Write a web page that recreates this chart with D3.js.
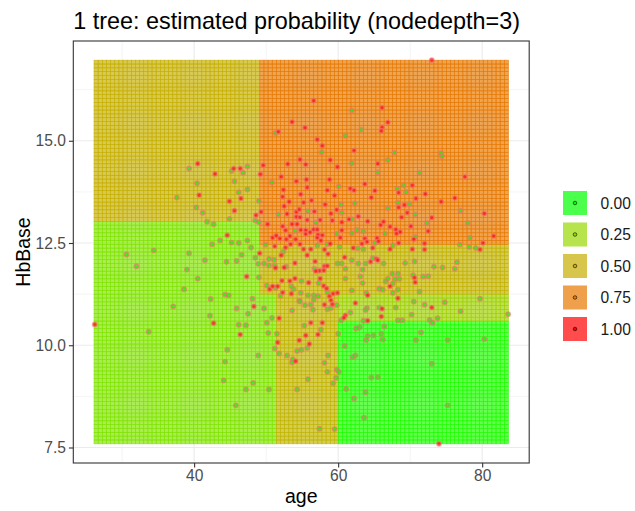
<!DOCTYPE html>
<html>
<head>
<meta charset="utf-8">
<script src="https://cdn.jsdelivr.net/npm/d3@7"></script>
<style>
  body { margin: 0; background: #fff; }
  text { font-family: "Liberation Sans", Arial, sans-serif; }
</style>
</head>
<body>
<svg id="chart"></svg>
<script>
// Specify the dimensions of the chart.
const width = 635;
const height = 511;

// Panel box (ggplot theme_bw look).
const panel = {left: 73.3, right: 529.2, top: 41, bottom: 463};

// Data ---------------------------------------------------------------------

// Extent of the prediction grid (age, HbBase) and its resolution.
const gridAge = [26.1, 83.65];
const gridHb = [7.59, 16.97];
const gridSize = 100;

// Tree leaves: [ageMin, ageMax, hbMin, hbMax, estimated probability]
const leaves = [
  [0, 49.0, 13.03, 99, 0.48],
  [0, 49.0, 11.29, 13.03, 0.17],
  [49.0, 999, 12.44, 99, 0.74],
  [49.0, 999, 11.29, 12.44, 0.46],
  [0, 51.56, 0, 11.29, 0.17],
  [51.56, 59.88, 0, 11.29, 0.45],
  [59.88, 999, 10.55, 11.29, 0.28],
  [59.88, 999, 0, 10.55, 0.01]
];

// Observations with outcome 1 (age, HbBase).
const redPoints = [
  [53.6,15.46],[51.7,15.22],[40.5,14.44],[42.9,14.19],[45.5,14.32],[46.4,14.32],[49.6,14.40],
  [53.0,14.43],[54.7,14.54],[49.2,14.18],[52.1,14.12],[54.2,14.01],[52.4,13.80],[40.7,13.67],
  [46.5,13.59],[52.3,13.63],[53.2,13.51],[44.9,13.52],[52.5,13.40],[45.6,13.29],[49.3,13.26],
  [48.6,13.18],[52.9,13.21],[54.2,13.26],[50.2,12.96],[52.3,12.91],[53.6,12.96],[54.3,12.96],
  [52.7,12.81],[44.6,12.69],[50.9,12.63],[51.4,12.68],[51.9,12.61],[52.8,12.59],[53.3,12.67],
  [54.1,12.59],[51.2,12.42],[53.4,12.47],[52.7,12.39],[73.0,16.97],[56.6,15.98],[66.1,15.81],
  [66.9,15.45],[55.4,15.32],[66.1,15.33],[66.0,15.24],[57.1,15.03],[57.8,14.88],[62.2,14.76],
  [58.9,14.53],[55.5,14.42],[65.5,14.44],[59.9,14.36],[77.6,14.12],[55.6,14.05],[58.8,14.05],
  [63.7,13.94],[55.7,13.86],[61.7,13.83],[62.2,13.79],[58.5,13.79],[65.1,13.78],[70.3,13.91],
  [68.4,13.73],[54.8,13.69],[59.5,13.66],[72.1,13.70],[64.6,13.61],[70.8,13.59],[76.2,13.60],
  [56.3,13.54],[55.2,13.49],[58.2,13.44],[74.3,13.51],[54.6,13.32],[68.4,13.37],[69.2,13.43],
  [59.8,13.31],[56.7,13.27],[59.0,13.22],[69.6,13.24],[80.3,13.22],[54.2,13.14],[54.7,13.13],
  [62.8,13.15],[68.8,13.13],[73.0,13.12],[55.7,13.06],[57.5,13.06],[59.2,13.05],[64.1,13.03],
  [61.5,13.08],[60.5,13.01],[65.9,12.94],[66.3,13.02],[67.2,12.90],[70.1,12.91],[54.8,12.82],
  [55.5,12.81],[56.6,12.83],[57.1,12.83],[60.5,12.81],[68.0,12.83],[68.6,12.77],[72.5,12.79],
  [55.5,12.72],[56.1,12.76],[57.2,12.70],[57.8,12.69],[68.1,12.73],[70.5,12.59],[81.6,12.67],
  [57.1,12.63],[57.6,12.56],[58.9,12.48],[60.3,12.63],[54.7,12.47],[63.7,12.61],[65.4,12.62],
  [64.0,12.53],[63.3,12.48],[65.6,12.54],[68.4,12.50],[72.0,12.49],[80.1,12.50],[62.1,12.38],
  [64.8,12.38],[67.2,12.35],[70.3,12.35],[72.0,12.34],[55.2,12.35],[56.2,12.35],[58.1,12.34],
  [79.7,12.34],[49.1,12.25],[52.1,12.20],[54.0,12.01],[51.3,11.89],[52.5,11.90],[47.3,11.68],
  [52.2,11.58],[53.3,11.57],[54.0,11.63],[50.5,11.37],[50.9,11.44],[51.6,11.44],[52.3,11.29],
  [53.5,11.26],[48.3,10.95],[51.8,10.66],[26.2,10.51],[42.7,10.54],[46.4,10.26],[51.6,10.07],
  [54.6,10.12],[54.1,9.61],[58.6,12.23],[55.7,12.20],[56.8,12.05],[57.4,11.82],[56.9,11.81],
  [58.1,11.93],[58.5,11.94],[58.0,11.83],[57.5,11.63],[55.9,11.53],[58.0,11.45],[58.4,11.39],
  [58.8,11.20],[59.3,11.26],[59.9,11.28],[59.0,11.10],[59.2,11.00],[58.1,10.99],[60.9,12.15],
  [64.5,12.04],[65.3,12.11],[65.5,12.08],[64.1,11.22],[67.2,11.44],[70.6,11.65],[70.7,11.54],
  [68.3,11.15],[73.0,10.92],[62.4,11.03],[66.1,10.89],[61.0,10.73],[60.8,10.67],[64.1,10.60],
  [66.0,10.70],[56.2,10.55],[57.8,10.55],[55.5,10.24],[57.2,10.26],[56.0,10.03],[74.0,7.59]
];

// Observations with outcome 0 (age, HbBase).
const greenPoints = [
  [51.3,15.19],[39.3,14.32],[45.2,14.26],[47.4,14.37],[46.8,14.22],[50.8,13.98],[40.4,13.96],
  [45.6,14.01],[47.4,13.81],[46.2,13.74],[37.6,13.61],[49.0,13.53],[40.3,13.37],[41.2,13.24],
  [51.7,13.20],[44.9,13.09],[41.8,13.02],[42.7,12.96],[48.5,13.05],[49.0,13.01],[54.0,12.80],
  [43.6,12.56],[42.5,12.47],[45.2,12.51],[46.2,12.50],[47.4,12.56],[47.9,12.39],[49.9,12.46],
  [34.4,12.32],[61.9,15.74],[63.2,15.27],[61.0,15.12],[57.7,14.72],[67.8,14.71],[74.3,14.70],
  [74.4,14.62],[66.9,14.53],[61.9,14.45],[65.5,14.23],[71.3,14.22],[60.1,13.88],[68.2,13.83],
  [69.1,13.91],[69.4,13.75],[60.4,13.44],[62.3,13.47],[68.3,13.49],[69.9,13.45],[66.9,13.35],
  [55.8,13.28],[60.5,13.24],[70.7,13.20],[77.0,13.29],[61.9,13.08],[56.9,13.00],[72.3,12.99],
  [78.0,12.99],[62.6,12.82],[63.5,12.79],[59.8,12.73],[61.9,12.74],[66.5,12.73],[70.7,12.65],
  [78.3,12.63],[58.5,12.47],[57.1,12.44],[65.1,12.50],[67.6,12.44],[76.9,12.46],[78.2,12.40],
  [79.1,12.38],[60.2,12.40],[62.7,12.37],[63.5,12.35],[30.6,12.22],[39.3,12.25],[52.4,12.29],
  [32.0,11.93],[41.5,12.08],[39.0,11.85],[44.5,12.04],[45.9,12.06],[46.6,12.21],[48.5,12.14],
  [48.9,11.99],[49.7,12.00],[50.4,12.11],[51.1,12.09],[50.4,11.95],[51.2,11.95],[52.8,11.92],
  [40.5,11.63],[49.0,11.66],[38.6,11.37],[50.1,11.46],[51.3,11.40],[53.5,11.44],[53.8,11.37],
  [52.0,11.21],[54.6,11.09],[44.3,11.24],[44.8,11.22],[42.3,11.13],[48.1,11.14],[37.1,10.95],
  [49.7,10.90],[45.9,10.90],[53.6,10.85],[47.5,10.77],[42.2,10.72],[50.8,10.67],[46.2,10.50],
  [47.2,10.49],[50.1,10.55],[33.7,10.33],[50.3,10.30],[51.5,10.28],[44.6,9.89],[51.2,9.92],
  [51.8,9.80],[48.9,9.75],[52.9,9.75],[54.3,9.86],[53.7,9.66],[53.6,9.58],[44.3,9.60],
  [44.1,9.14],[48.2,9.08],[47.2,8.92],[50.4,8.92],[54.3,8.92],[45.8,8.53],[56.7,11.87],
  [57.3,11.52],[54.9,11.57],[54.8,11.28],[55.8,11.22],[56.6,11.22],[57.2,11.20],[58.5,11.30],
  [59.0,10.91],[59.8,10.98],[55.4,10.98],[56.2,10.99],[56.5,10.87],[58.5,10.88],[54.7,11.07],
  [56.6,11.11],[61.0,11.63],[59.9,12.00],[60.5,12.00],[61.9,12.08],[61.0,11.87],[62.8,12.00],
  [63.8,12.00],[64.8,12.13],[66.3,12.00],[63.4,11.85],[63.1,11.68],[63.4,11.52],[61.9,11.34],
  [63.9,11.28],[65.7,11.38],[66.2,11.36],[66.6,11.56],[66.9,11.63],[67.6,11.51],[67.9,11.62],
  [68.5,11.62],[68.3,11.36],[67.6,11.28],[67.5,11.75],[68.3,11.75],[69.3,12.01],[70.6,12.05],
  [70.4,11.71],[71.8,11.68],[72.5,11.69],[73.3,11.92],[74.5,11.90],[76.2,11.87],[76.5,12.03],
  [71.3,11.31],[68.0,10.92],[70.5,11.07],[72.0,10.99],[74.8,11.05],[77.0,10.83],[79.7,11.14],
  [83.6,10.76],[64.0,10.91],[63.8,10.86],[65.7,10.92],[61.7,10.80],[60.4,10.61],[63.5,10.60],
  [68.3,10.61],[68.9,10.61],[70.2,10.75],[72.7,10.62],[73.1,10.55],[73.8,10.66],[55.3,10.48],
  [57.6,10.38],[55.7,9.93],[54.9,9.89],[60.0,10.28],[58.6,9.75],[58.1,9.57],[60.9,9.98],
  [62.5,10.41],[63.0,10.44],[64.1,10.23],[64.9,10.24],[63.9,10.13],[66.0,10.28],[66.2,10.14],
  [66.4,10.46],[71.5,10.31],[70.8,10.13],[75.2,10.13],[80.3,10.15],[62.4,9.75],[62.0,9.71],
  [59.8,9.40],[60.1,9.35],[58.5,9.35],[59.7,9.20],[59.3,9.07],[64.6,9.21],[65.5,9.22],
  [73.0,9.55],[61.1,8.93],[63.8,8.85],[55.8,9.17],[62.2,8.70],[75.2,8.53],[63.6,8.23],
  [57.4,7.96],[59.5,7.95]
];

// Axis ticks and legend breaks.
const xTicks = [40, 60, 80];
const xMinor = [30, 50, 70];
const yTicks = [7.5, 10, 12.5, 15];
const yMinor = [8.75, 11.25, 13.75, 16.25];
const legendBreaks = [0, 0.25, 0.5, 0.75, 1];

// Scales -------------------------------------------------------------------

const expand = (e) => {
  const pad = (e[1] - e[0]) * 0.05;
  return [e[0] - pad, e[1] + pad];
};

const x = d3.scaleLinear().domain(expand(gridAge)).range([panel.left, panel.right]);
const y = d3.scaleLinear().domain(expand(gridHb)).range([panel.bottom, panel.top]);

const color = d3.scaleLinear()
  .domain([0, 1])
  .range(["#00ff00", "#ff0000"])
  .interpolate(d3.interpolateLab);

const TILE_ALPHA = 0.68;
const TILE_LINE_ALPHA = 0.9;

// Svg ----------------------------------------------------------------------

const svg = d3.select("#chart")
  .attr("width", width)
  .attr("height", height)
  .attr("viewBox", [0, 0, width, height]);

svg.append("rect").attr("width", width).attr("height", height).attr("fill", "#fff");

// grid lines
const grid = svg.append("g");
grid.selectAll(".xminor").data(xMinor).join("line")
  .attr("x1", d => x(d)).attr("x2", d => x(d))
  .attr("y1", panel.top).attr("y2", panel.bottom)
  .attr("stroke", "#ebebeb").attr("stroke-width", 0.55);
grid.selectAll(".yminor").data(yMinor).join("line")
  .attr("y1", d => y(d)).attr("y2", d => y(d))
  .attr("x1", panel.left).attr("x2", panel.right)
  .attr("stroke", "#ebebeb").attr("stroke-width", 0.55);
grid.selectAll(".xmajor").data(xTicks).join("line")
  .attr("x1", d => x(d)).attr("x2", d => x(d))
  .attr("y1", panel.top).attr("y2", panel.bottom)
  .attr("stroke", "#ebebeb").attr("stroke-width", 1.1);
grid.selectAll(".ymajor").data(yTicks).join("line")
  .attr("y1", d => y(d)).attr("y2", d => y(d))
  .attr("x1", panel.left).attr("x2", panel.right)
  .attr("stroke", "#ebebeb").attr("stroke-width", 1.1);

// tiles: probability of the tree on a regular grid
function leafProb(age, hb) {
  const leaf = leaves.find(l => age >= l[0] && age < l[1] && hb >= l[2] && hb < l[3]);
  return leaf ? leaf[4] : 0;
}

const tw = (gridAge[1] - gridAge[0]) / gridSize;
const th = (gridHb[1] - gridHb[0]) / gridSize;
const tiles = [];
for (let i = 0; i < gridSize; i++) {
  for (let j = 0; j < gridSize; j++) {
    const a0 = gridAge[0] + i * tw;
    const h0 = gridHb[0] + j * th;
    tiles.push({a0, h0, p: leafProb(a0 + tw / 2, h0 + th / 2)});
  }
}

svg.append("g")
  .selectAll("rect")
  .data(tiles)
  .join("rect")
    .attr("x", d => x(d.a0))
    .attr("y", d => y(d.h0 + th))
    .attr("width", x(gridAge[0] + tw) - x(gridAge[0]))
    .attr("height", y(gridHb[0]) - y(gridHb[0] + th))
    .attr("fill", d => color(d.p))
    .attr("fill-opacity", TILE_ALPHA)
    .attr("stroke", d => color(d.p))
    .attr("stroke-opacity", TILE_LINE_ALPHA)
    .attr("stroke-width", 0.6);

// points
const points = greenPoints.map(d => ({age: d[0], hb: d[1], cls: 0}))
  .concat(redPoints.map(d => ({age: d[0], hb: d[1], cls: 1})));

svg.append("g")
  .selectAll("circle")
  .data(points)
  .join("circle")
    .attr("cx", d => x(d.age))
    .attr("cy", d => y(d.hb))
    .attr("r", 2.1)
    .attr("fill", d => color(d.cls))
    .attr("fill-opacity", 0.7)
    .attr("stroke", "#f07070")
    .attr("stroke-opacity", 0.6)
    .attr("stroke-width", 1.7);

// panel border
svg.append("rect")
  .attr("x", panel.left).attr("y", panel.top)
  .attr("width", panel.right - panel.left)
  .attr("height", panel.bottom - panel.top)
  .attr("fill", "none")
  .attr("stroke", "#333333")
  .attr("stroke-width", 1.1);

// axes
const xAxis = svg.append("g")
  .attr("transform", `translate(0,${panel.bottom})`)
  .call(d3.axisBottom(x).tickValues(xTicks).tickSize(4.4).tickPadding(3));
const yAxis = svg.append("g")
  .attr("transform", `translate(${panel.left},0)`)
  .call(d3.axisLeft(y).tickValues(yTicks).tickFormat(d3.format(".1f")).tickSize(4.4).tickPadding(3));

[xAxis, yAxis].forEach(ax => {
  ax.select(".domain").remove();
  ax.selectAll(".tick line").attr("stroke", "#333333").attr("stroke-width", 1.1);
  ax.selectAll(".tick text")
    .attr("fill", "#4d4d4d")
    .style("font-size", "15.6px")
    .style("font-family", "'Liberation Sans', Arial, sans-serif");
});

// titles
svg.append("text")
  .attr("x", panel.left)
  .attr("y", 29)
  .attr("fill", "#000")
  .style("font-size", "23.4px")
  .text("1 tree: estimated probability (nodedepth=3)");

svg.append("text")
  .attr("x", (panel.left + panel.right) / 2)
  .attr("y", 503)
  .attr("text-anchor", "middle")
  .attr("fill", "#000")
  .style("font-size", "19.5px")
  .text("age");

svg.append("text")
  .attr("transform", `translate(30,${(panel.top + panel.bottom) / 2}) rotate(-90)`)
  .attr("text-anchor", "middle")
  .attr("fill", "#000")
  .style("font-size", "19.5px")
  .text("HbBase");

// legend
const legend = svg.append("g").attr("transform", "translate(563,191)");
const key = legend.selectAll("g")
  .data(legendBreaks)
  .join("g")
    .attr("transform", (d, i) => `translate(0,${i * 31.5})`);
key.append("rect")
  .attr("width", 24).attr("height", 24)
  .attr("fill", d => color(d))
  .attr("fill-opacity", 0.7);
key.append("circle")
  .attr("cx", 12).attr("cy", 12).attr("r", 1.8)
  .attr("fill", d => color(d))
  .attr("stroke", "#000")
  .attr("stroke-opacity", 0.7)
  .attr("stroke-width", 0.8);
key.append("text")
  .attr("x", 37.5).attr("y", 12)
  .attr("dy", "0.36em")
  .attr("fill", "#1a1a1a")
  .style("font-size", "15.6px")
  .text(d => d3.format(".2f")(d));
</script>
</body>
</html>
